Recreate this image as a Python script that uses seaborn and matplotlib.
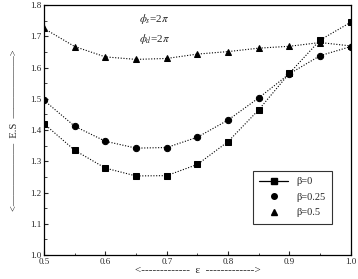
import numpy as np
import pandas as pd
import matplotlib
matplotlib.use("Agg")
import matplotlib.pyplot as plt
import seaborn as sns
from matplotlib.lines import Line2D

# data
eps = [0.5, 0.55, 0.6, 0.65, 0.7, 0.75, 0.8, 0.85, 0.9, 0.95, 1.0]
es_b0 = [1.42, 1.335, 1.278, 1.253, 1.254, 1.29, 1.363, 1.465, 1.582, 1.688, 1.745]
es_b025 = [1.495, 1.412, 1.364, 1.342, 1.344, 1.377, 1.432, 1.503, 1.58, 1.638, 1.667]
es_b05 = [1.725, 1.667, 1.634, 1.626, 1.629, 1.643, 1.651, 1.662, 1.668, 1.68, 1.669]
labels = ["β=0", "β=0.25", "β=0.5"]

sns.set_style("ticks")
plt.rcParams['font.family'] = ['Liberation Serif', 'DejaVu Serif']
plt.rcParams['mathtext.fontset'] = 'stix'

df = pd.DataFrame({
    'eps': eps * 3,
    'es': es_b0 + es_b025 + es_b05,
    'beta': [labels[0]] * len(eps) + [labels[1]] * len(eps) + [labels[2]] * len(eps),
})

fig = plt.figure(figsize=(3.58, 2.79), dpi=100)
ax = fig.add_axes([0.123, 0.086, 0.857, 0.896])

markers = {labels[0]: 's', labels[1]: 'o', labels[2]: '^'}
for lab in labels:
    sub = df[df['beta'] == lab]
    sns.lineplot(data=sub, x='eps', y='es', ax=ax, color='black', lw=0.8,
                 linestyle=(0, (1, 1.5)), marker=markers[lab], markersize=4.5,
                 markeredgecolor='black', markerfacecolor='black', legend=False)

ax.set_xlim(0.5, 1.0)
ax.set_ylim(1.0, 1.8)
ax.set_xticks(np.arange(0.5, 1.01, 0.1))
ax.set_xticks(np.arange(0.5, 1.01, 0.05), minor=True)
ax.set_yticks(np.arange(1.0, 1.81, 0.1))
ax.set_yticks(np.arange(1.0, 1.81, 0.05), minor=True)
ax.tick_params(direction='in', labelsize=6.5, length=3, width=0.8, pad=2)
ax.tick_params(which='minor', direction='in', length=1.8, width=0.6)
for s in ax.spines.values():
    s.set_linewidth(0.9)
    s.set_color('black')

ax.set_xlabel("<-------------  ε  ------------->", fontsize=8, labelpad=0)
ax.set_ylabel("<——————  E.S  ——————>", fontsize=7.5, labelpad=8)

ax.text(0.655, 1.755, r"$\phi_s$=2$\pi$", fontsize=8, va='center')
ax.text(0.655, 1.69, r"$\phi_d$=2$\pi$", fontsize=8, va='center')

handles = [
    Line2D([], [], color='black', lw=0.9, marker='s', markersize=4),
    Line2D([], [], color='black', lw=0, marker='o', markersize=4),
    Line2D([], [], color='black', lw=0, marker='^', markersize=4),
]
leg = ax.legend(handles, labels, loc='lower left', bbox_to_anchor=(0.664, 0.105),
                fontsize=7.5, frameon=True, fancybox=False, edgecolor='black',
                handlelength=2.8, borderpad=0.6, labelspacing=0.6)
leg.get_frame().set_linewidth(0.8)

fig.savefig("out.png", dpi=100)
